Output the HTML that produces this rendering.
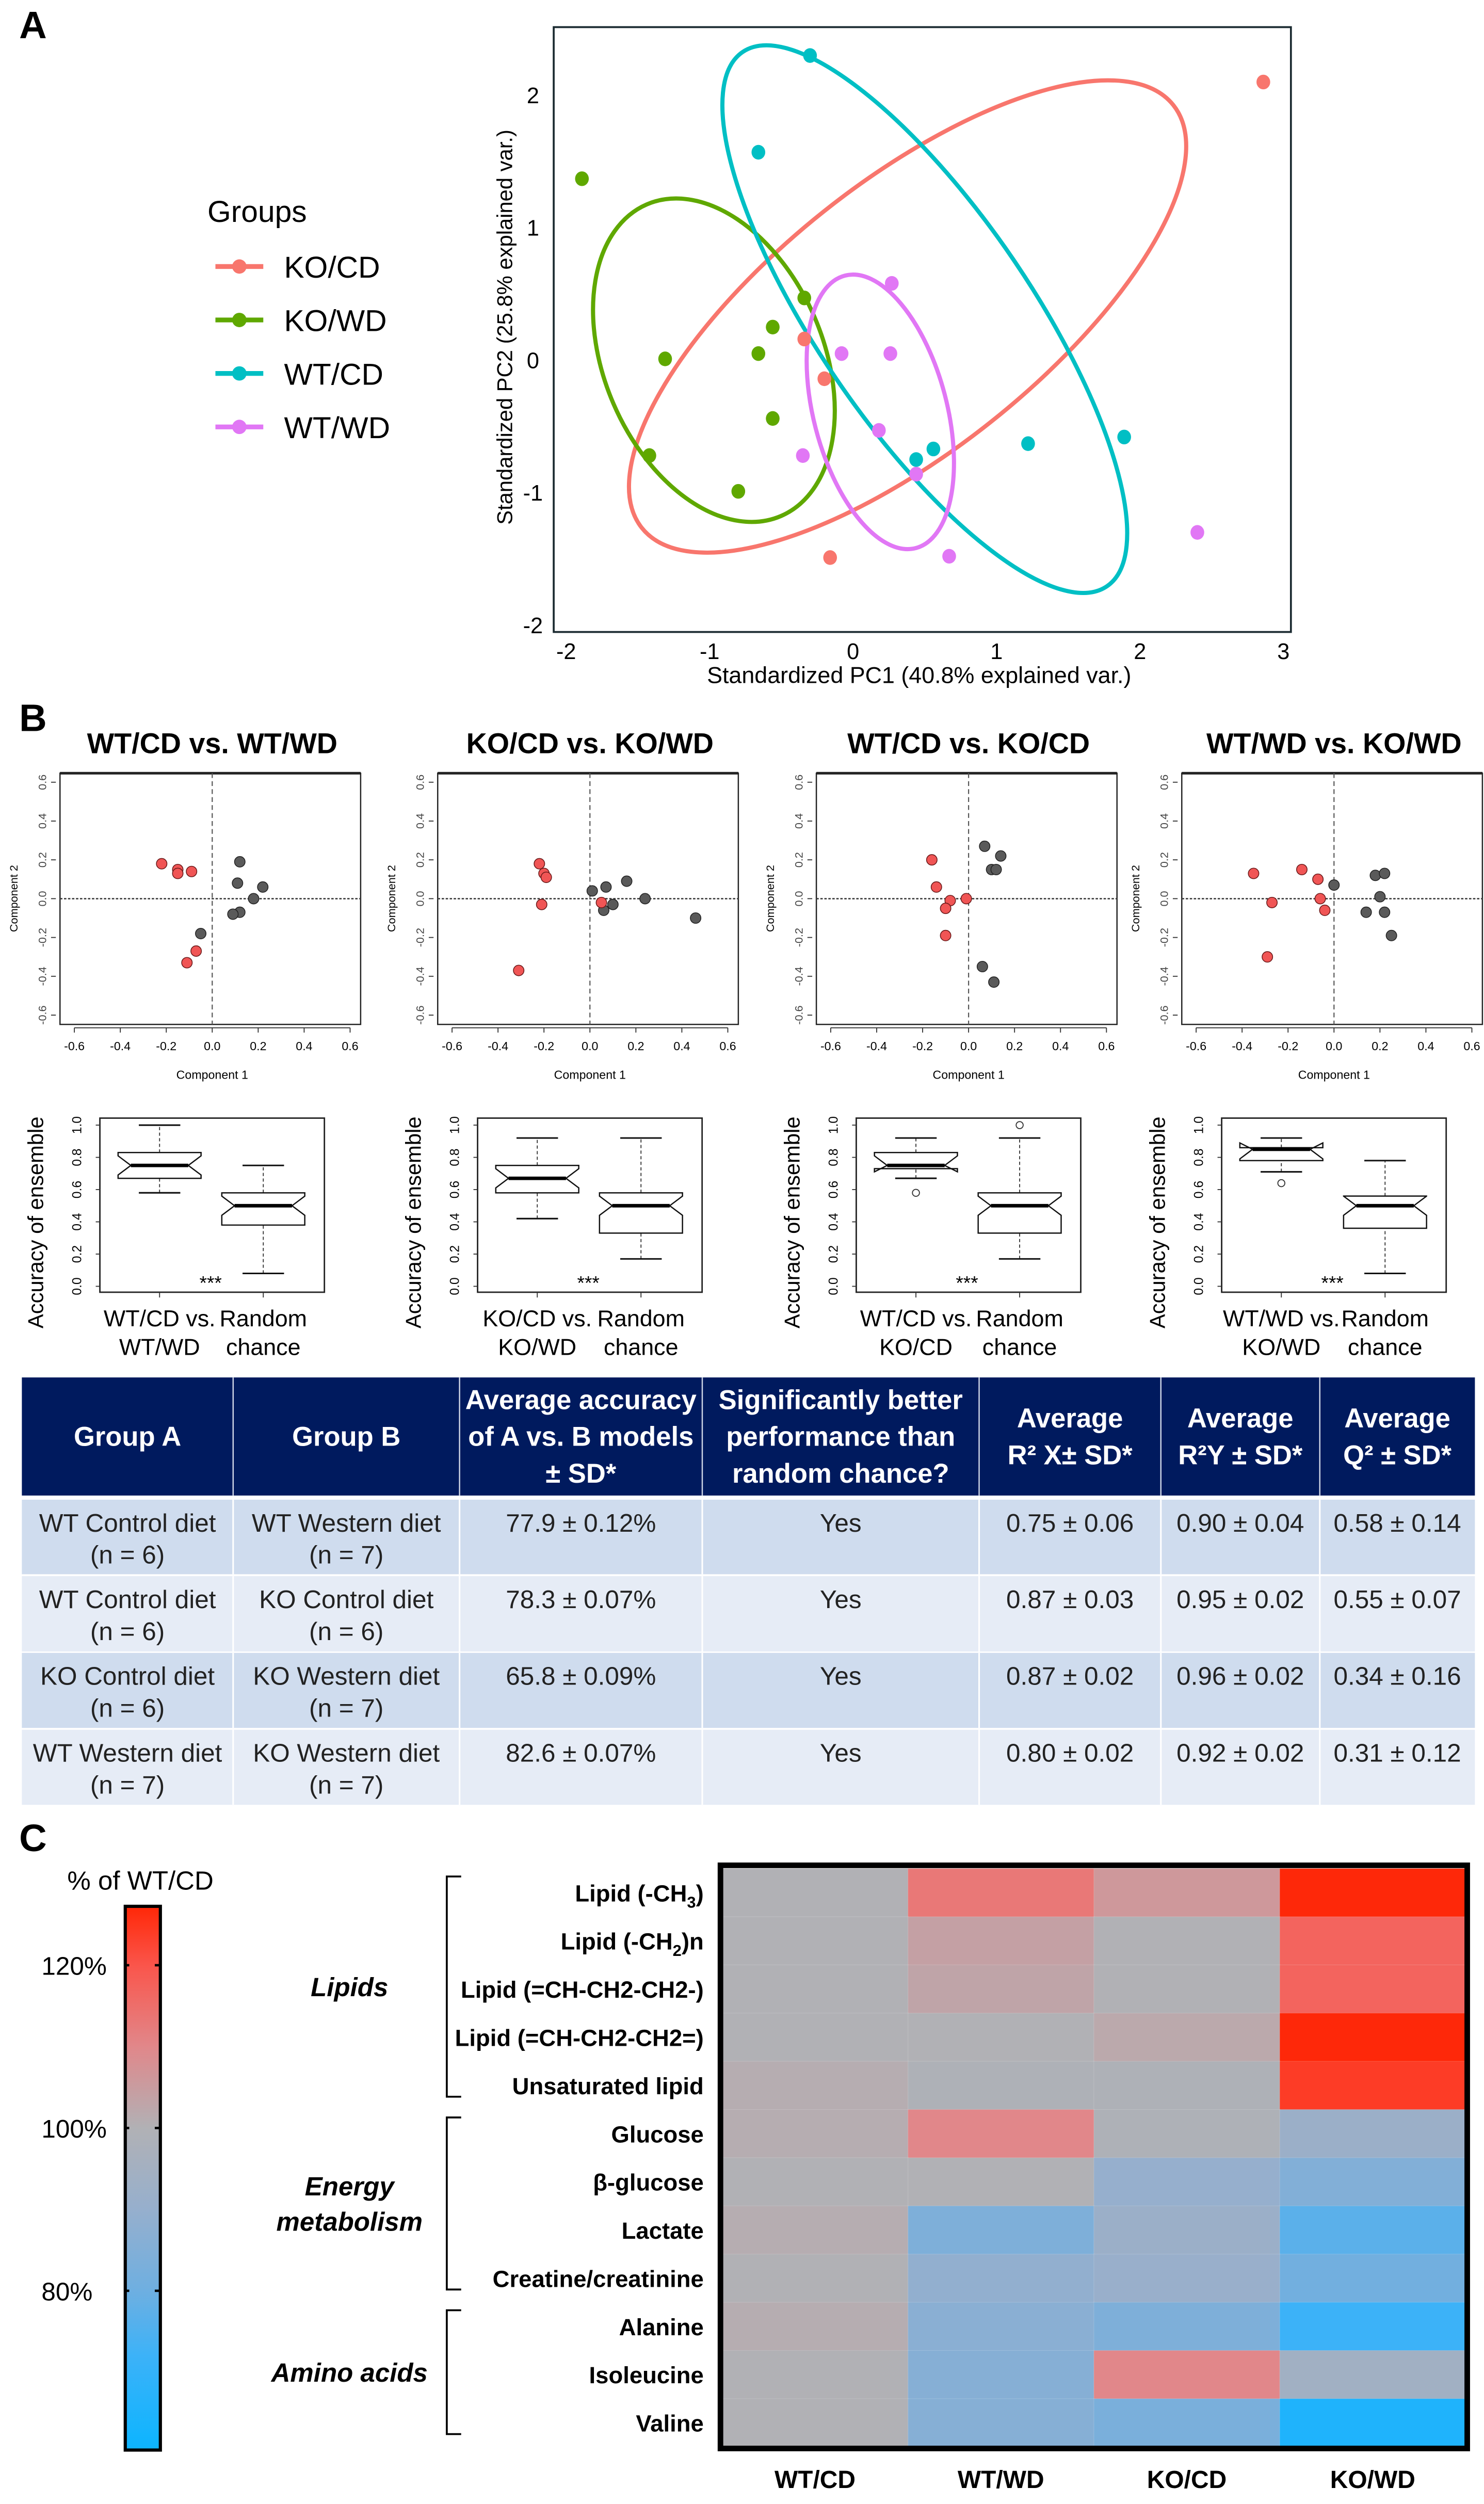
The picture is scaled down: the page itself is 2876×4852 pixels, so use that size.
<!DOCTYPE html>
<html><head><meta charset="utf-8"><style>
html,body{margin:0;padding:0;background:#fff}
svg{display:block}
text{font-family:"Liberation Sans Narrow","Liberation Sans",sans-serif}
</style></head><body>
<svg id="fig" xmlns="http://www.w3.org/2000/svg" width="2876" height="4852" viewBox="0 0 930 1569" preserveAspectRatio="none">
<g id="pa"></g>
<g id="pb"></g>
<g id="pt"></g>
<g id="pc"></g>
</svg>
<script>
// ---------- Panel A data ----------
const groupNames = ["KO/CD","KO/WD","WT/CD","WT/WD"];
const groupColors = ["#f8766d","#5fa800","#00bfc4","#e177f5"];
const koCdX = [2.86,-0.34,-0.20,-0.16];
const koCdY = [2.10,0.16,-0.14,-1.49];
const koWdX = [-1.89,-0.34,-0.56,-0.66,-1.31,-0.56,-1.42,-0.80];
const koWdY = [1.37,0.47,0.25,0.05,0.01,-0.44,-0.72,-0.99];
const wtCdX = [-0.30,-0.66,0.44,0.56,1.22,1.89];
const wtCdY = [2.30,1.57,-0.75,-0.67,-0.63,-0.58];
const wtWdX = [0.27,-0.08,0.26,0.18,-0.35,0.44,0.67,2.40];
const wtWdY = [0.58,0.05,0.05,-0.53,-0.72,-0.86,-1.48,-1.30];
const ellCx = [0.38,-0.97,0.50,0.19];
const ellCy = [0.33,0.00,0.31,-0.39];
const ellA = [212.8,106.3,202.6,88.2];
const ellB = [84.2,68.6,66.9,41.8];
const ellRot = [-38.5,66.7,55.7,75.4];
const xTicksA = [-2,-1,0,1,2,3];
const yTicksA = [-2,-1,0,1,2];

// ---------- Panel B data ----------
const bTitles = ["WT/CD vs. WT/WD","KO/CD vs. KO/WD","WT/CD vs. KO/CD","WT/WD vs. KO/WD"];
const bLab1 = [["WT/CD vs.","WT/WD"],["KO/CD vs.","KO/WD"],["WT/CD vs.","KO/CD"],["WT/WD vs.","KO/WD"]];
const redX = [[-0.22,-0.15,-0.15,-0.09,-0.07,-0.11],[-0.22,-0.20,-0.19,-0.21,-0.31,0.05],[-0.16,-0.14,-0.08,-0.10,-0.10,-0.01],[-0.35,-0.27,-0.14,-0.07,-0.06,-0.04,-0.29]];
const redY = [[0.18,0.15,0.13,0.14,-0.27,-0.33],[0.18,0.13,0.11,-0.03,-0.37,-0.02],[0.20,0.06,-0.01,-0.05,-0.19,0.0],[0.13,-0.02,0.15,0.10,0.0,-0.06,-0.30]];
const darkX = [[0.12,0.11,0.22,0.18,0.12,0.09,-0.05],[0.01,0.07,0.16,0.24,0.10,0.06,0.46],[0.07,0.14,0.10,0.12,0.06,0.11],[0.0,0.18,0.22,0.20,0.22,0.14,0.25]];
const darkY = [[0.19,0.08,0.06,0.0,-0.07,-0.08,-0.18],[0.04,0.06,0.09,0.0,-0.03,-0.06,-0.10],[0.27,0.22,0.15,0.15,-0.35,-0.43],[0.07,0.12,0.13,0.01,-0.07,-0.07,-0.19]];
const compTicks = [-0.6,-0.4,-0.2,0.0,0.2,0.4,0.6];
const compTickLabels = ["-0.6","-0.4","-0.2","0.0","0.2","0.4","0.6"];
// boxplots: [lowWhisker, q1, median, q3, highWhisker]
const boxModel = [[0.58,0.67,0.75,0.83,1.0],[0.42,0.58,0.67,0.75,0.92],[0.67,0.73,0.75,0.83,0.92],[0.71,0.78,0.85,0.86,0.92]];
const boxRandom = [[0.08,0.38,0.50,0.58,0.75],[0.17,0.33,0.50,0.58,0.92],[0.17,0.33,0.50,0.58,0.92],[0.08,0.36,0.50,0.56,0.78]];
const outModel = [[],[],[0.58],[0.64]];
const outRandom = [[],[],[1.0],[]];
const accTicks = [0,0.2,0.4,0.6,0.8,1.0];
const accTickLabels = ["0.0","0.2","0.4","0.6","0.8","1.0"];

// ---------- Table data ----------
const tHead = [["Group A"],["Group B"],["Average accuracy","of A vs. B models","± SD*"],["Significantly better","performance than","random chance?"],["Average","R² X± SD*"],["Average","R²Y ± SD*"],["Average","Q² ± SD*"]];
const tRows = [
 [["WT Control diet","(n = 6)"],["WT Western diet","(n = 7)"],["77.9 ± 0.12%"],["Yes"],["0.75 ± 0.06"],["0.90 ± 0.04"],["0.58 ±  0.14"]],
 [["WT Control diet","(n = 6)"],["KO Control diet","(n = 6)"],["78.3 ± 0.07%"],["Yes"],["0.87 ± 0.03"],["0.95 ± 0.02"],["0.55 ± 0.07"]],
 [["KO Control diet","(n = 6)"],["KO Western diet","(n = 7)"],["65.8 ± 0.09%"],["Yes"],["0.87 ± 0.02"],["0.96 ± 0.02"],["0.34 ± 0.16"]],
 [["WT Western diet","(n = 7)"],["KO Western diet","(n = 7)"],["82.6 ± 0.07%"],["Yes"],["0.80 ± 0.02"],["0.92 ± 0.02"],["0.31 ± 0.12"]]
];

// ---------- Panel C data ----------
const hmCols = ["WT/CD","WT/WD","KO/CD","KO/WD"];
const hmRows = ["Lipid (-CH3)","Lipid (-CH2)n","Lipid (=CH-CH2-CH2-)","Lipid (=CH-CH2-CH2=)","Unsaturated lipid","Glucose","β-glucose","Lactate","Creatine/creatinine","Alanine","Isoleucine","Valine"];
const hmValues = [
 [100,113,106,127],
 [100,104,100,117],
 [100,103,100,117],
 [100,100,102,127],
 [101,99,99,124],
 [101,110,99,92],
 [100,100,90,85],
 [101,84,92,77],
 [100,89,91,81],
 [101,87,84,72],
 [100,86,110,94],
 [100,86,83,65]
];
const cbTicks = [120,100,80];
const groupLabels = [["Lipids"],["Energy","metabolism"],["Amino acids"]];
const groupSpans = [[0,4],[5,8],[9,11]];

const NS="http://www.w3.org/2000/svg";
function mk(parent,tag,attrs,txt){const e=document.createElementNS(NS,tag);for(const k in attrs)e.setAttribute(k,attrs[k]);if(txt!==undefined)e.textContent=txt;parent.appendChild(e);return e;}

// ================= PANEL A =================
const pa=document.getElementById('pa');
const xA=v=>534.6+89.9*v, yA=v=>225.7-83*v;
let t=mk(pa,'text',{x:12,y:24,'font-size':24,'font-weight':'bold','font-family':'Liberation Sans'},'A');

let fr=mk(pa,'rect',{x:347,y:17,width:462,height:379,fill:'none',stroke:'#1a2a30','stroke-width':1.2});

xTicksA.forEach(v=>{const e=mk(pa,'text',{x:xA(v),y:413,'font-size':14,'text-anchor':'middle'},String(v));
 });
yTicksA.forEach(v=>{const e=mk(pa,'text',{x:334,y:yA(v)+5,'font-size':14,'text-anchor':'middle'},String(v));
 });
t=mk(pa,'text',{x:576,y:428,'font-size':14.5,'text-anchor':'middle'},'Standardized PC1 (40.8% explained var.)');

t=mk(pa,'text',{x:0,y:0,'font-size':13.5,'text-anchor':'middle','font-family':'Liberation Sans','transform':'translate(321,205) rotate(-90)'},'Standardized PC2 (25.8% explained var.)');

groupNames.forEach((n,i)=>{const e=mk(pa,'ellipse',{cx:0,cy:0,rx:ellA[i],ry:ellB[i],fill:'none',stroke:groupColors[i],'stroke-width':2.6,transform:`translate(${xA(ellCx[i])},${yA(ellCy[i])}) rotate(${ellRot[i]})`});
 });
const ptsX=[koCdX,koWdX,wtCdX,wtWdX], ptsY=[koCdY,koWdY,wtCdY,wtWdY];
ptsX.forEach((xs,g)=>xs.forEach((v,k)=>{const c=mk(pa,'ellipse',{cx:xA(v),cy:yA(ptsY[g][k]),rx:4.3,ry:4.6,fill:groupColors[g]});
 }));
t=mk(pa,'text',{x:130,y:139,'font-size':19},'Groups');

groupNames.forEach((n,i)=>{const y=167+i*33.5;
 const g=mk(pa,'g',{});
 mk(g,'line',{x1:135,x2:165,y1:y,y2:y,stroke:groupColors[i],'stroke-width':3});
 mk(g,'circle',{cx:150,cy:y,r:4.5,fill:groupColors[i]});
 mk(g,'text',{x:178,y:y+7,'font-size':19},n);});

// ================= PANEL B =================
const pb=document.getElementById('pb');
t=mk(pb,'text',{x:12,y:458,'font-size':24,'font-weight':'bold','font-family':'Liberation Sans'},'B');

const X0=[133,369.7,607,836];
const yB=v=>563.1-121.6*v, yBx=v=>806-101*v;
bTitles.forEach((title,i)=>{
 const x0=X0[i], xB=v=>x0+144*v;
 const g=mk(pb,'g',{});
 let e=mk(g,'text',{x:x0,y:472,'font-size':18,'font-weight':'bold','text-anchor':'middle','font-family':'Liberation Sans'},title);
 
 e=mk(g,'rect',{x:x0-95.4,y:484.5,width:188.4,height:157.4,fill:'none',stroke:'#222','stroke-width':0.8});
 
 mk(g,'line',{x1:x0-95.4,x2:x0+93,y1:484.5,y2:484.5,stroke:'#222','stroke-width':1.6});
 mk(g,'line',{x1:x0,x2:x0,y1:484.5,y2:641.9,stroke:'#555','stroke-width':0.7,'stroke-dasharray':'3,2'});
 mk(g,'line',{x1:x0-95.4,x2:x0+93,y1:yB(0),y2:yB(0),stroke:'#444','stroke-width':0.9,'stroke-dasharray':'1.5,1'});
 mk(g,'line',{x1:xB(-0.6),x2:xB(0.6),y1:644,y2:644,stroke:'#333','stroke-width':0.6});
 compTicks.forEach((v,k)=>{mk(g,'line',{x1:xB(v),x2:xB(v),y1:644,y2:647,stroke:'#333','stroke-width':0.6});
  const l=mk(g,'text',{x:xB(v),y:658,'font-size':7.5,'text-anchor':'middle'},compTickLabels[k]);
  
  const l2=mk(g,'text',{x:0,y:0,'font-size':7,'text-anchor':'middle','fill':'#444','font-family':'Liberation Sans',transform:`translate(${x0-104},${yB(v)}) rotate(-90)`},compTickLabels[k]);
  
  mk(g,'line',{x1:x0-98,x2:x0-101,y1:yB(v),y2:yB(v),stroke:'#333','stroke-width':0.6});});
 e=mk(g,'text',{x:x0,y:676,'font-size':7.5,'text-anchor':'middle'},'Component 1');
 
 e=mk(g,'text',{x:0,y:0,'font-size':7,'text-anchor':'middle','font-family':'Liberation Sans',transform:`translate(${x0-122},563) rotate(-90)`},'Component 2');
 
 darkX[i].forEach((v,k)=>{const c=mk(g,'circle',{cx:xB(v),cy:yB(darkY[i][k]),r:3.3,fill:'#5a5a5a',stroke:'#222','stroke-width':0.5});
  });
 redX[i].forEach((v,k)=>{const c=mk(g,'circle',{cx:xB(v),cy:yB(redY[i][k]),r:3.3,fill:'#f05555',stroke:'#6a1a1a','stroke-width':0.5});
  });
 const bg=mk(pb,'g',{});
 e=mk(bg,'rect',{x:x0-70.4,y:700.6,width:140.7,height:109.1,fill:'none',stroke:'#222','stroke-width':0.9});
 
 accTicks.forEach((v,k)=>{mk(bg,'line',{x1:x0-73,x2:x0-70.4,y1:yBx(v),y2:yBx(v),stroke:'#333','stroke-width':0.6});
  const l=mk(bg,'text',{x:0,y:0,'font-size':8,'text-anchor':'middle','font-family':'Liberation Sans',transform:`translate(${x0-82},${yBx(v)}) rotate(-90)`},accTickLabels[k]);
  });
 e=mk(bg,'text',{x:0,y:0,'font-size':13.5,'text-anchor':'middle','font-family':'Liberation Sans',transform:`translate(${x0-106},766) rotate(-90)`},'Accuracy of ensemble');
 
 [[boxModel[i],outModel[i],x0-33,bLab1[i]],[boxRandom[i],outRandom[i],x0+32,["Random","chance"]]].forEach(([b,outs,cx,lab])=>{
  const hw=26, nh=8;
  const bx=mk(bg,'g',{});
  mk(bx,'line',{x1:cx,x2:cx,y1:yBx(b[0]),y2:yBx(b[1]),stroke:'#333','stroke-width':0.6,'stroke-dasharray':'2,1.5'});
  mk(bx,'line',{x1:cx,x2:cx,y1:yBx(b[3]),y2:yBx(b[4]),stroke:'#333','stroke-width':0.6,'stroke-dasharray':'2,1.5'});
  mk(bx,'line',{x1:cx-13,x2:cx+13,y1:yBx(b[0]),y2:yBx(b[0]),stroke:'#111','stroke-width':1});
  mk(bx,'line',{x1:cx-13,x2:cx+13,y1:yBx(b[4]),y2:yBx(b[4]),stroke:'#111','stroke-width':1});
  const nt=Math.min(yBx(b[2])-4,Math.max(yBx(b[3]),yBx(b[2])-6)), nb=Math.max(yBx(b[2])+4,Math.min(yBx(b[1]),yBx(b[2])+6));
  const q3=yBx(b[3]), q1=yBx(b[1]), m=yBx(b[2]);
  mk(bx,'path',{d:`M${cx-hw},${q3}L${cx+hw},${q3}L${cx+hw},${Math.min(nt,m)}L${cx+hw-nh},${m}L${cx+hw},${Math.max(nb,m)}L${cx+hw},${q1}L${cx-hw},${q1}L${cx-hw},${Math.max(nb,m)}L${cx-hw+nh},${m}L${cx-hw},${Math.min(nt,m)}Z`,fill:'#fff',stroke:'#111','stroke-width':0.8});
  mk(bx,'line',{x1:cx-hw+nh,x2:cx+hw-nh,y1:m,y2:m,stroke:'#000','stroke-width':2.2});
  outs.forEach(o=>{const c=mk(bx,'circle',{cx:cx,cy:yBx(o),r:2.2,fill:'none',stroke:'#333','stroke-width':0.6});});
  mk(bg,'line',{x1:cx,x2:cx,y1:809.7,y2:813,stroke:'#333','stroke-width':0.6});
  const l1=mk(bg,'text',{x:cx,y:831,'font-size':14.5,'text-anchor':'middle'},lab[0]);
  
  const l2=mk(bg,'text',{x:cx,y:849,'font-size':14.5,'text-anchor':'middle'},lab[1]);
  
 });
 e=mk(bg,'text',{x:x0-1,y:808,'font-size':12,'text-anchor':'middle','font-family':'Liberation Sans'},'***');
 
});

// ================= TABLE =================
const pt=document.getElementById('pt');
const colX=[13.7,146.1,288,440.1,613.6,727.5,827.1,924.3];
const rowY=[[863.1,937.1],[939.7,986.4],[987.6,1034.8],[1035.7,1082.7],[1083.9,1130.9]];
let r=mk(pt,'rect',{x:13.7,y:863.1,width:910.6,height:74,fill:'#001a5e'});

for(let c=0;c<7;c++){
 if(c>0) mk(pt,'line',{x1:colX[c],x2:colX[c],y1:863.1,y2:937.1,stroke:'#cfd6e6','stroke-width':0.8});
 const lines=tHead[c], cx=(colX[c]+colX[c+1])/2, cy=900;
 const y0=cy-(lines.length-1)*11.5;
 lines.forEach((s,k)=>{const e=mk(pt,'text',{x:cx,y:y0+k*23+6,'font-size':17,'font-weight':'bold','fill':'#fff','text-anchor':'middle'},s);
  });
}
tRows.forEach((row,ri)=>{
 const [ya,yb]=rowY[ri+1];
 const rr=mk(pt,'rect',{x:13.7,y:ya,width:910.6,height:yb-ya,fill:ri%2===0?'#cfdcee':'#e6ecf6'});
 
 row.forEach((lines,c)=>{
  if(c>0) mk(pt,'line',{x1:colX[c],x2:colX[c],y1:ya,y2:yb,stroke:'#fff','stroke-width':1});
  const cx=(colX[c]+colX[c+1])/2;
  lines.forEach((s,k)=>{const e=mk(pt,'text',{x:cx,y:ya+20+k*20,'font-size':16,'fill':'#222','text-anchor':'middle'},s);
   });
 });
});

// ================= PANEL C =================
const pc=document.getElementById('pc');
t=mk(pc,'text',{x:12,y:1160,'font-size':24,'font-weight':'bold','font-family':'Liberation Sans'},'C');

const stops=[[60,[10,180,255]],[72,[60,178,248]],[80,[110,175,225]],[90,[150,175,205]],[100,[177,177,181]],[110,[225,135,138]],[120,[250,85,75]],[128,[255,34,0]]];
function colorOf(v){
 if(v<=stops[0][0]) return `rgb(${stops[0][1]})`;
 for(let i=1;i<stops.length;i++){ if(v<=stops[i][0]){const [a,ca]=stops[i-1],[b,cb]=stops[i];const f=(v-a)/(b-a);
  return 'rgb('+ca.map((c,j)=>Math.round(c+(cb[j]-c)*f)).join(',')+')';}}
 return `rgb(${stops[stops.length-1][1]})`;
}
const hx0=452.5, hx1=918.5, hy0=1170.8, rowH=30.2, colW=(hx1-hx0)/4;
const defs=mk(document.getElementById('fig'),'defs',{});
const lg=mk(defs,'linearGradient',{id:'cbg',x1:0,y1:1,x2:0,y2:0});
const cbTop=1194.5, cbBot=1535.2, cbY=v=>1333.4-(v-100)*5.1;
const vBot=100-(cbBot-1333.4)/5.1, vTop=100+(1333.4-cbTop)/5.1;
stops.forEach(([v])=>{const off=(v-vBot)/(vTop-vBot);if(off>=0&&off<=1)mk(lg,'stop',{offset:off,'stop-color':colorOf(v)});});
mk(lg,'stop',{offset:0,'stop-color':colorOf(vBot)});
mk(lg,'stop',{offset:1,'stop-color':colorOf(vTop)});
const stopsEls=[...lg.children].sort((a,b)=>a.getAttribute('offset')-b.getAttribute('offset'));stopsEls.forEach(s=>lg.appendChild(s));
r=mk(pc,'rect',{x:78.5,y:cbTop,width:22,height:cbBot-cbTop,fill:'url(#cbg)',stroke:'#000','stroke-width':2});

t=mk(pc,'text',{x:88,y:1184,'font-size':16.5,'text-anchor':'middle'},'% of WT/CD');

cbTicks.forEach(v=>{mk(pc,'line',{x1:97,x2:101,y1:cbY(v),y2:cbY(v),stroke:'#000','stroke-width':1.5});
 mk(pc,'line',{x1:78,x2:81,y1:cbY(v),y2:cbY(v),stroke:'#000','stroke-width':1.5});
 const e=mk(pc,'text',{x:26,y:cbY(v)+6,'font-size':16},v+'%');});
hmValues.forEach((row,i)=>row.forEach((v,j)=>{
 const c=mk(pc,'rect',{x:hx0+j*colW,y:hy0+i*rowH,width:colW+0.3,height:rowH+0.3,fill:colorOf(v),stroke:'rgba(255,255,255,0.15)','stroke-width':0.4});
 }));
r=mk(pc,'rect',{x:hx0-1,y:hy0-2,width:hx1-hx0+2,height:12*rowH+3,fill:'none',stroke:'#000','stroke-width':3.5});

hmRows.forEach((n,i)=>{const y=hy0+i*rowH+rowH/2+5.5;
 const e=mk(pc,'text',{x:441,y:y,'font-size':14.7,'font-weight':'bold','text-anchor':'end'});
 
 if(n==="Lipid (-CH3)"){e.appendChild(document.createTextNode('Lipid (-CH'));mk(e,'tspan',{'font-size':10,dy:4},'3');mk(e,'tspan',{dy:-4},')');}
 else if(n==="Lipid (-CH2)n"){e.appendChild(document.createTextNode('Lipid (-CH'));mk(e,'tspan',{'font-size':10,dy:4},'2');mk(e,'tspan',{dy:-4},')n');}
 else e.textContent=n;});
hmCols.forEach((n,j)=>{const e=mk(pc,'text',{x:hx0+(j+0.5)*colW,y:1559,'font-size':15.5,'font-weight':'bold','text-anchor':'middle'},n);
 });
groupSpans.forEach(([a,b],k)=>{
 const ya=hy0+a*rowH+5, yb=hy0+(b+1)*rowH-8;
 const br=mk(pc,'path',{d:`M289,${ya}L280,${ya}L280,${yb}L289,${yb}`,fill:'none',stroke:'#000','stroke-width':1.2});
 
 const lines=groupLabels[k], cy=(ya+yb)/2;
 lines.forEach((s,q)=>{const e=mk(pc,'text',{x:219,y:cy+6+(q-(lines.length-1)/2)*22,'font-size':16.5,'font-weight':'bold','font-style':'italic','text-anchor':'middle'},s);
  });
});
</script>
</body></html>
